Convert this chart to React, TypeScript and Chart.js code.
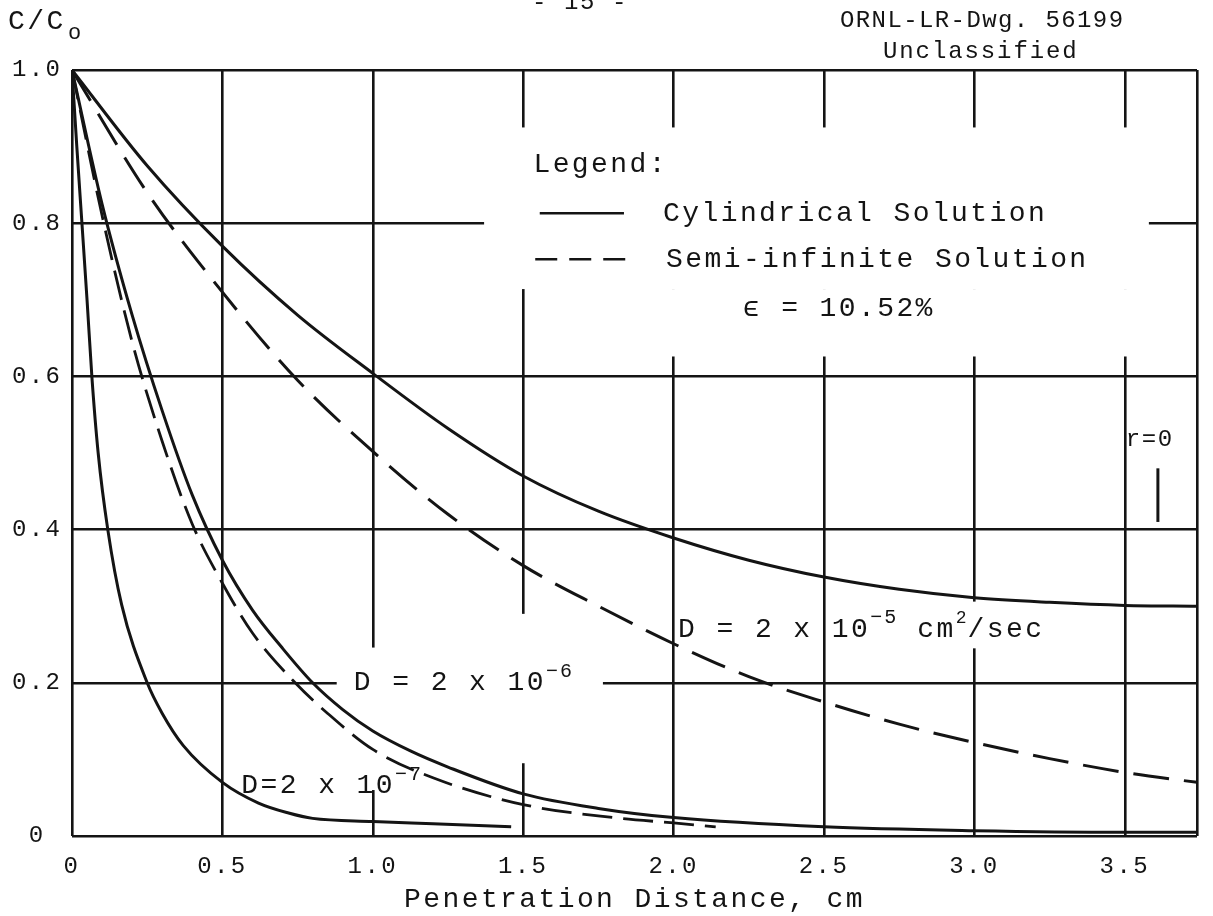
import { useEffect, useRef } from 'react';
import { Chart, registerables } from 'chart.js';

Chart.register(...registerables);

// Axis extents and tick values (cm, C/Co)
const xMax = 3.74;
const xTickValues = [0, 0.5, 1.0, 1.5, 2.0, 2.5, 3.0, 3.5, xMax];
const yTickValues = [0, 0.2, 0.4, 0.6, 0.8, 1.0];

// D = 2 x 10^-5 cm^2/sec, cylindrical solution
const cyl5X = [0, 0.25, 0.5, 0.75, 1.0, 1.25, 1.5, 1.75, 2.0, 2.25, 2.5, 2.75, 3.0, 3.25, 3.5, 3.74];
const cyl5Y = [1.0, 0.875, 0.77, 0.68, 0.604, 0.532, 0.47, 0.424, 0.389, 0.36, 0.338, 0.322, 0.311, 0.305, 0.301, 0.3];

// D = 2 x 10^-5 cm^2/sec, semi-infinite solution
const semi5X = [0, 0.25, 0.5, 0.75, 1.0, 1.25, 1.5, 1.75, 2.0, 2.25, 2.5, 2.75, 3.0, 3.25, 3.5, 3.74];
const semi5Y = [1.0, 0.84, 0.71, 0.595, 0.502, 0.42, 0.353, 0.3, 0.251, 0.208, 0.175, 0.146, 0.122, 0.101, 0.083, 0.07];

// D = 2 x 10^-6, cylindrical solution
const cyl6X = [0, 0.1, 0.2, 0.3, 0.4, 0.5, 0.6, 0.7, 0.8, 0.9, 1.0, 1.125, 1.25, 1.5, 1.75, 2.0, 2.5, 3.0, 3.5, 3.74];
const cyl6Y = [1.0, 0.825, 0.68, 0.555, 0.445, 0.36, 0.295, 0.245, 0.2, 0.165, 0.137, 0.111, 0.09, 0.055, 0.036, 0.024, 0.012, 0.007, 0.005, 0.005];

// D = 2 x 10^-6, semi-infinite solution
const semi6X = [0, 0.1, 0.2, 0.3, 0.4, 0.5, 0.6, 0.742, 0.85, 1.0, 1.2, 1.5, 1.8, 2.0, 2.14];
const semi6Y = [1.0, 0.81, 0.645, 0.515, 0.407, 0.33, 0.265, 0.2, 0.16, 0.113, 0.076, 0.041, 0.024, 0.017, 0.012];

// D = 2 x 10^-7
const d7X = [0, 0.016, 0.033, 0.05, 0.066, 0.087, 0.119, 0.165, 0.25, 0.3, 0.37, 0.5, 0.62, 0.72, 0.8, 1.0, 1.2, 1.46];
const d7Y = [1.0, 0.9, 0.8, 0.7, 0.6, 0.5, 0.4, 0.302, 0.2, 0.16, 0.118, 0.07, 0.043, 0.03, 0.023, 0.019, 0.016, 0.012];

// short marker beside the r=0 note
const rMarkX = [3.61, 3.61];
const rMarkY = [0.48, 0.41];

// stretches where the ruled grid is left blank (x0, x1, y0, y1 in data units)
const gridBreaks: [number, number, number, number][] = [
  [1.37, 3.58, 0.714, 0.925],
  [1.6, 3.58, 0.626, 0.714],
  [0.88, 1.765, 0.18, 0.22],
  [0.975, 1.025, 0.06, 0.246],
  [1.475, 1.525, 0.095, 0.29],
  [2.975, 3.025, 0.245, 0.306],
];

const INK = '#141414';
const MONO = '"Liberation Mono", "Courier New", monospace';
const SPACING = '2.4px';

const zip = (xs: number[], ys: number[]) => xs.map((x, i) => ({ x, y: ys[i] }));

type Piece = { text: string; size?: number; rise?: number; family?: string; spacing?: number };

function drawPieces(ctx: CanvasRenderingContext2D, pieces: Piece[], x: number, y: number) {
  let cx = x;
  for (const p of pieces) {
    ctx.font = `${p.size ?? 28}px ${p.family ?? MONO}`;
    (ctx as any).letterSpacing = `${p.spacing ?? 2.4}px`;
    ctx.fillText(p.text, cx, y - (p.rise ?? 0));
    cx += ctx.measureText(p.text).width;
  }
}

const paperPlugin = {
  id: 'paper',
  beforeLayout(chart: any) {
    chart.ctx.letterSpacing = SPACING;
  },
  beforeDraw(chart: any) {
    const ctx = chart.ctx as CanvasRenderingContext2D;
    ctx.save();
    ctx.fillStyle = '#ffffff';
    ctx.fillRect(0, 0, chart.width, chart.height);
    ctx.restore();
    (ctx as any).letterSpacing = SPACING;
  },
  beforeDatasetsDraw(chart: any) {
    const ctx = chart.ctx as CanvasRenderingContext2D;
    const xs = chart.scales.x;
    const ys = chart.scales.y;
    ctx.save();
    ctx.fillStyle = '#ffffff';
    for (const [x0, x1, y0, y1] of gridBreaks) {
      const a = xs.getPixelForValue(x0);
      const b = xs.getPixelForValue(x1);
      const top = ys.getPixelForValue(y1);
      const bot = ys.getPixelForValue(y0);
      ctx.fillRect(a, top, b - a, bot - top);
    }
    ctx.restore();
  },
  afterDatasetsDraw(chart: any) {
    const ctx = chart.ctx as CanvasRenderingContext2D;
    const xs = chart.scales.x;
    const ys = chart.scales.y;
    const X = (v: number) => xs.getPixelForValue(v);
    const Y = (v: number) => ys.getPixelForValue(v);
    ctx.save();
    ctx.fillStyle = INK;
    ctx.strokeStyle = INK;
    ctx.textAlign = 'left';
    ctx.textBaseline = 'middle';

    // page header
    drawPieces(ctx, [{ text: 'C/C' }], 8, 22);
    drawPieces(ctx, [{ text: 'o', size: 22 }], 68, 33);
    ctx.textAlign = 'center';
    drawPieces(ctx, [{ text: '- 15 -', size: 24, spacing: 1.6 }], 580, 3);
    ctx.textAlign = 'left';
    drawPieces(ctx, [{ text: 'ORNL-LR-Dwg. 56199', size: 24, spacing: 1.4 }], 840, 21);
    drawPieces(ctx, [{ text: 'Unclassified', size: 24, spacing: 1.9 }], 883, 52);

    // legend block
    drawPieces(ctx, [{ text: 'Legend:' }], X(1.534), Y(0.877));
    ctx.lineWidth = 2.6;
    ctx.setLineDash([]);
    ctx.beginPath();
    ctx.moveTo(X(1.555), Y(0.813));
    ctx.lineTo(X(1.835), Y(0.813));
    ctx.stroke();
    drawPieces(ctx, [{ text: 'Cylindrical Solution' }], X(1.965), Y(0.813));
    ctx.setLineDash([22, 12]);
    ctx.beginPath();
    ctx.moveTo(X(1.54), Y(0.753));
    ctx.lineTo(X(1.84), Y(0.753));
    ctx.stroke();
    ctx.setLineDash([]);
    drawPieces(ctx, [{ text: 'Semi-infinite Solution' }], X(1.975), Y(0.753));
    drawPieces(ctx, [{ text: 'ϵ = 10.52%' }], X(2.23), Y(0.688));

    // curve labels
    drawPieces(
      ctx,
      [
        { text: 'D = 2 x 10' },
        { text: '−5', size: 20, rise: 11, spacing: 2 },
        { text: ' cm' },
        { text: '2', size: 18, rise: 11, spacing: 1 },
        { text: '/sec' },
      ],
      X(2.015),
      Y(0.27)
    );
    drawPieces(ctx, [{ text: 'D = 2 x 10' }, { text: '−6', size: 20, rise: 11, spacing: 2 }], X(0.937), Y(0.2));
    drawPieces(ctx, [{ text: 'D=2 x 10' }, { text: '−7', size: 20, rise: 11, spacing: 2 }], X(0.563), Y(0.066));
    drawPieces(ctx, [{ text: 'r=0', size: 24, spacing: 1.6 }], X(3.503), Y(0.518));

    ctx.restore();
    (ctx as any).letterSpacing = SPACING;
  },
};

export default function App() {
  const ref = useRef<HTMLCanvasElement>(null);

  useEffect(() => {
    document.body.style.margin = '0';
    const canvas = ref.current;
    if (!canvas) return;

    const lineBase = {
      borderColor: INK,
      borderWidth: 3,
      pointRadius: 0,
      pointHoverRadius: 0,
      fill: false,
      cubicInterpolationMode: 'monotone' as const,
    };

    const chart = new Chart(canvas, {
      type: 'line',
      data: {
        datasets: [
          { ...lineBase, label: 'Cylindrical, D = 2e-5', data: zip(cyl5X, cyl5Y) },
          { ...lineBase, label: 'Semi-infinite, D = 2e-5', data: zip(semi5X, semi5Y), borderDash: [36, 15] },
          { ...lineBase, label: 'Cylindrical, D = 2e-6', data: zip(cyl6X, cyl6Y) },
          { ...lineBase, label: 'Semi-infinite, D = 2e-6', data: zip(semi6X, semi6Y), borderDash: [30, 11], borderWidth: 2.8 },
          { ...lineBase, label: 'D = 2e-7', data: zip(d7X, d7Y) },
          { ...lineBase, label: 'r = 0', data: zip(rMarkX, rMarkY), borderWidth: 3 },
        ],
      },
      options: {
        responsive: false,
        animation: false,
        devicePixelRatio: 1,
        layout: { padding: { left: 12, top: 70, right: 6, bottom: 0 } },
        plugins: {
          legend: { display: false },
          tooltip: { enabled: false },
        },
        events: [],
        scales: {
          x: {
            type: 'linear',
            min: 0,
            max: xMax,
            afterBuildTicks: (scale: any) => {
              scale.ticks = xTickValues.map((value) => ({ value }));
            },
            afterFit: (scale: any) => {
              scale.height = 80;
            },
            ticks: {
              autoSkip: false,
              maxRotation: 0,
              padding: 16,
              color: INK,
              font: { family: MONO, size: 24 },
              callback: (v: any) => (v === 0 ? '0' : v === xMax ? '' : Number(v).toFixed(1)),
            },
            grid: { color: INK, lineWidth: 2.6, drawTicks: false },
            border: { display: false },
            title: {
              display: true,
              text: 'Penetration Distance, cm',
              color: INK,
              font: { family: MONO, size: 28 },
              padding: { top: 0, bottom: 0 },
            },
          },
          y: {
            type: 'linear',
            min: 0,
            max: 1,
            afterBuildTicks: (scale: any) => {
              scale.ticks = yTickValues.map((value) => ({ value }));
            },
            afterFit: (scale: any) => {
              scale.width = 60;
            },
            ticks: {
              crossAlign: 'far',
              padding: 0,
              color: INK,
              font: { family: MONO, size: 24 },
              callback: (v: any) => (v === 0 ? ' 0' : Number(v).toFixed(1)),
            },
            grid: { color: INK, lineWidth: 2.6, drawTicks: false },
            border: { display: false },
          },
        },
      },
      plugins: [paperPlugin],
    } as any);

    return () => chart.destroy();
  }, []);

  return (
    <div style={{ width: 1213, height: 916, background: '#fff' }}>
      <canvas ref={ref} width={1213} height={916} style={{ display: 'block' }} />
    </div>
  );
}
